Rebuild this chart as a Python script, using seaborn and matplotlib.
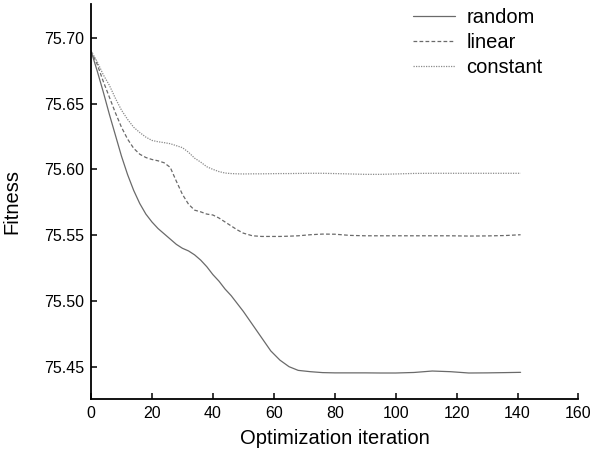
import matplotlib
matplotlib.use("Agg")
import matplotlib.pyplot as plt
import seaborn as sns
import pandas as pd

sns.set_style("ticks")
plt.rcParams["font.family"] = ["Liberation Sans", "DejaVu Sans"]
plt.rcParams["xtick.direction"] = "in"
plt.rcParams["ytick.direction"] = "in"
plt.rcParams["text.color"] = "black"
plt.rcParams["axes.labelcolor"] = "black"

iterations = [0, 2, 4, 6, 8, 10, 12, 14, 16, 18, 20, 22, 24, 26, 28, 30, 32,
              34, 36, 38, 40, 42, 44, 46, 48, 50, 53, 56, 59, 62, 65, 68, 72,
              76, 80, 85, 90, 95, 100, 106, 112, 118, 124, 130, 136, 141]

random_fit = [75.690, 75.675, 75.659, 75.642, 75.626, 75.610, 75.596, 75.584,
              75.574, 75.566, 75.560, 75.555, 75.551, 75.547, 75.543, 75.540,
              75.538, 75.535, 75.531, 75.526, 75.520, 75.515, 75.509, 75.504,
              75.498, 75.492, 75.482, 75.472, 75.462, 75.455, 75.450, 75.4472,
              75.4462, 75.4455, 75.4453, 75.4453, 75.4453, 75.4452, 75.4452,
              75.4456, 75.4467, 75.4462, 75.4452, 75.4453, 75.4455, 75.4457]

linear_fit = [75.690, 75.680, 75.667, 75.655, 75.643, 75.632, 75.623, 75.616,
              75.6115, 75.609, 75.6075, 75.6065, 75.605, 75.6015, 75.591,
              75.581, 75.5735, 75.569, 75.5677, 75.566, 75.5653, 75.563,
              75.560, 75.557, 75.554, 75.5515, 75.5495, 75.549, 75.549, 75.549,
              75.5492, 75.5495, 75.5503, 75.5508, 75.5507, 75.5498, 75.5495,
              75.5495, 75.5495, 75.5495, 75.5495, 75.5495, 75.5493, 75.5494,
              75.5497, 75.5503]

constant_fit = [75.690, 75.682, 75.672, 75.664, 75.654, 75.645, 75.638,
                75.632, 75.628, 75.6245, 75.622, 75.621, 75.6203, 75.6195,
                75.618, 75.6165, 75.613, 75.6085, 75.6055, 75.602, 75.600,
                75.5983, 75.5972, 75.5968, 75.5966, 75.5965, 75.5966, 75.5966,
                75.5967, 75.5968, 75.5968, 75.5969, 75.597, 75.597, 75.5968,
                75.5965, 75.5962, 75.5962, 75.5965, 75.5969, 75.597, 75.597,
                75.597, 75.597, 75.597, 75.597]

series_names = ["random", "linear", "constant"]
x_ticks = [0, 20, 40, 60, 80, 100, 120, 140, 160]
y_ticks = [75.45, 75.50, 75.55, 75.60, 75.65, 75.70]

df = pd.DataFrame({
    "iteration": iterations * 3,
    "fitness": random_fit + linear_fit + constant_fit,
    "strategy": [s for s in series_names for _ in iterations],
})

fig = plt.figure(figsize=(5.93, 4.58), dpi=100)
ax = fig.add_axes([0.1535, 0.129, 0.822, 0.862])

sns.lineplot(
    data=df, x="iteration", y="fitness", hue="strategy", style="strategy",
    hue_order=series_names, style_order=series_names,
    palette={"random": "#6a6a6a", "linear": "#6a6a6a", "constant": "#8a8a8a"},
    dashes={"random": "", "linear": (3, 1.8), "constant": (1, 1)},
    linewidth=0.9, ax=ax,
)

ax.set_xlim(0, 160)
ax.set_ylim(75.4255, 75.7256)
ax.set_xticks(x_ticks)
ax.set_yticks(y_ticks)
ax.set_yticklabels([f"{v:.2f}" for v in y_ticks])
ax.tick_params(axis="both", labelsize=11.5, length=4, width=1.1, colors="black", pad=5)
for side in ("top", "right"):
    ax.spines[side].set_visible(False)
for side in ("left", "bottom"):
    ax.spines[side].set_linewidth(1.3)
    ax.spines[side].set_color("black")

ax.set_xlabel("Optimization iteration", fontsize=14.5, labelpad=6, color="black")
ax.set_ylabel("Fitness", fontsize=14.5, labelpad=16, color="black")

leg = ax.legend(loc="upper left", bbox_to_anchor=(413 / 593, 1 - 8 / 458),
                bbox_transform=fig.transFigure, frameon=False,
                fontsize=14.5, handlelength=2.1, handletextpad=0.55,
                labelspacing=0.3, borderpad=0, borderaxespad=0)
for t in leg.get_texts():
    t.set_color("black")

fig.savefig("out.png", dpi=100)
